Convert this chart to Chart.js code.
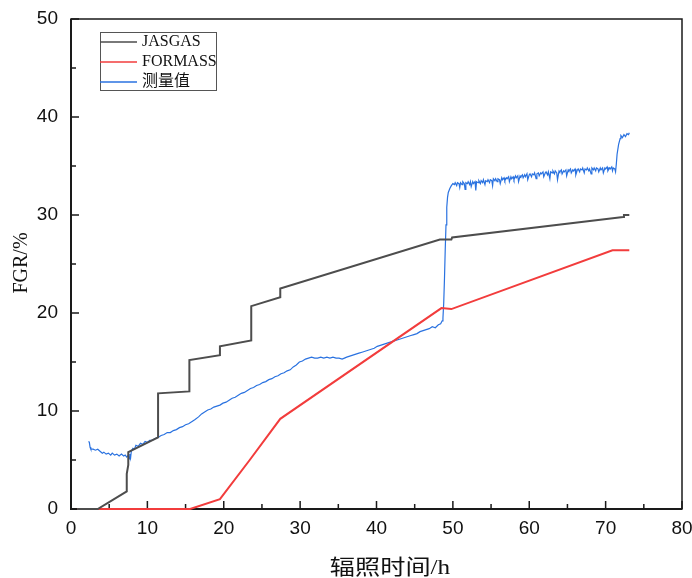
<!DOCTYPE html>
<html><head><meta charset="utf-8">
<script src="https://cdn.jsdelivr.net/npm/chart.js@4/dist/chart.umd.min.js"></script>
<style>html,body{margin:0;padding:0;background:#fff}canvas{display:block}</style>
</head><body>
<canvas id="c" width="692" height="578"></canvas>
<script>
const xTicks = [0,10,20,30,40,50,60,70,80];
const yTicks = [0,10,20,30,40,50];
const seriesLabels = ["JASGAS","FORMASS","测量值"];
const xTitle = "辐照时间/h";
const yTitle = "FGR/%";

const jasgas = [
[0.8,0],[3.5,0],[7.3,1.8],[7.3,3.6],[7.5,4.5],[7.5,5.8],[11.4,7.3],[11.4,11.8],
[15.5,12.0],[15.5,15.2],[19.5,15.7],[19.5,16.6],[23.6,17.2],[23.6,20.7],
[27.4,21.6],[27.4,22.5],[48.3,27.5],[49.8,27.5],[49.9,27.7],[72.3,29.8],[72.4,30.0],[73.1,30.0]
];
const formass = [
[0.8,0],[15.6,0],[19.5,1.0],[23.4,5.0],[27.4,9.2],[48.5,20.5],[49.8,20.4],[70.9,26.4],[73.1,26.4]
];
const measured = [
[2.3,6.9],[2.4,6.8],[2.5,6.3],[2.6,6.1],[2.9,6.1],[3.2,6.0],[3.5,6.1],[3.8,5.9],[4.1,5.7],[4.3,5.8],
[4.6,5.6],[4.9,5.7],[5.2,5.5],[5.4,5.7],[5.7,5.5],[6.0,5.6],[6.3,5.4],[6.6,5.6],[6.9,5.4],[7.1,5.5],
[7.3,5.3],[7.5,5.5],[7.6,5.1],[7.7,5.6],[7.8,5.2],[7.9,5.9],[8.1,6.2],[8.3,6.1],[8.5,6.5],[8.8,6.4],
[9.1,6.7],[9.4,6.6],[9.7,6.9],[10.0,6.8],[10.3,7.0],[10.6,7.0],[11.0,7.2],[11.4,7.3],[11.8,7.5],[12.2,7.6],
[12.6,7.8],[13.0,7.8],[13.4,8.0],[13.8,8.1],[14.2,8.3],[14.6,8.4],[15.0,8.6],[15.4,8.7],[15.8,8.9],[16.2,9.1],
[16.7,9.4],[17.1,9.7],[17.5,9.9],[17.9,10.1],[18.3,10.2],[18.7,10.4],[19.1,10.5],[19.5,10.6],[19.9,10.8],[20.3,10.9],
[20.7,11.1],[21.1,11.3],[21.5,11.4],[21.9,11.6],[22.3,11.8],[22.7,11.9],[23.1,12.1],[23.5,12.3],[23.9,12.4],[24.3,12.6],
[24.7,12.7],[25.1,12.9],[25.5,13.0],[25.9,13.2],[26.3,13.3],[26.7,13.5],[27.1,13.6],[27.5,13.8],[27.9,13.9],[28.3,14.1],
[28.7,14.2],[29.1,14.5],[29.5,14.7],[29.9,15.0],[30.3,15.1],[30.7,15.3],[31.1,15.4],[31.5,15.5],[31.9,15.4],[32.3,15.4],
[32.7,15.5],[33.1,15.4],[33.5,15.5],[33.9,15.4],[34.3,15.5],[34.7,15.4],[35.1,15.4],[35.5,15.3],[35.8,15.4],[36.1,15.5],
[36.5,15.6],[36.9,15.7],[37.3,15.8],[37.7,15.9],[38.1,16.0],[38.5,16.1],[38.9,16.2],[39.3,16.3],[39.7,16.4],[40.1,16.6],
[40.5,16.7],[40.9,16.8],[41.3,16.9],[41.7,17.0],[42.1,17.1],[42.5,17.2],[42.9,17.3],[43.3,17.4],[43.7,17.5],[44.1,17.6],
[44.5,17.7],[44.9,17.8],[45.3,17.9],[45.7,18.1],[46.1,18.2],[46.5,18.3],[46.9,18.4],[47.3,18.6],[47.7,18.5],[48.1,18.8],
[48.4,18.9],[48.6,19.2],[48.7,19.5],[48.8,21.0],[48.9,23.5],[49.0,26.5],[49.1,29.0],[49.2,30.8],[49.3,31.8],[49.4,32.3],
[49.6,32.7],[49.8,33.0],[50.0,33.2],[50.2,33.1],[50.3,33.3],[50.5,33.0],[50.6,33.3],[50.8,33.2],[50.9,32.8],[51.0,33.3],
[51.2,33.1],[51.3,33.4],[51.5,33.2],[51.6,32.6],[51.7,33.3],[51.9,33.2],[52.0,33.4],[52.2,33.1],[52.3,33.4],[52.4,32.9],
[52.6,33.4],[52.7,33.2],[52.9,33.4],[53.0,32.5],[53.1,33.4],[53.3,33.3],[53.4,33.5],[53.6,33.2],[53.7,33.5],[53.9,33.3],
[54.0,33.6],[54.2,33.1],[54.3,33.5],[54.5,33.4],[54.6,33.6],[54.8,33.3],[54.9,33.6],[55.1,33.5],[55.2,33.0],[55.3,33.7],
[55.5,33.5],[55.6,33.7],[55.8,33.4],[55.9,33.7],[56.1,33.6],[56.2,33.2],[56.4,33.8],[56.5,33.6],[56.7,33.8],[56.8,33.5],
[57.0,33.8],[57.1,33.7],[57.3,33.9],[57.4,33.4],[57.6,33.9],[57.7,33.7],[57.9,33.9],[58.0,33.6],[58.2,34.0],[58.3,33.8],
[58.5,34.0],[58.6,33.4],[58.8,34.0],[58.9,33.9],[59.1,34.1],[59.2,33.8],[59.4,34.1],[59.5,33.9],[59.7,34.2],[59.8,33.6],
[60.0,34.1],[60.1,34.2],[60.3,33.9],[60.4,34.2],[60.6,34.1],[60.7,34.3],[60.9,33.7],[61.0,34.2],[61.2,34.3],[61.3,34.0],
[61.5,34.3],[61.6,34.2],[61.8,34.4],[61.9,33.9],[62.1,34.3],[62.2,34.4],[62.4,34.1],[62.5,34.4],[62.7,33.7],[62.8,34.4],
[63.0,34.3],[63.1,34.5],[63.3,34.2],[63.4,34.5],[63.6,34.3],[63.7,33.6],[63.9,34.5],[64.0,34.4],[64.2,34.6],[64.3,34.2],
[64.5,34.5],[64.6,34.4],[64.8,34.6],[64.9,34.0],[65.1,34.6],[65.2,34.5],[65.4,34.7],[65.5,34.3],[65.7,34.6],[65.8,34.5],
[66.0,34.7],[66.1,34.1],[66.3,34.6],[66.4,34.7],[66.6,34.4],[66.7,34.7],[66.9,34.6],[67.0,34.8],[67.2,34.3],[67.3,34.7],
[67.5,34.6],[67.6,34.8],[67.8,34.5],[67.9,34.7],[68.1,34.2],[68.2,34.8],[68.4,34.6],[68.5,34.8],[68.7,34.5],[68.8,34.8],
[69.0,34.7],[69.1,34.4],[69.3,34.8],[69.4,34.6],[69.6,34.8],[69.7,34.3],[69.9,34.8],[70.0,34.7],[70.2,34.9],[70.3,34.5],
[70.5,34.8],[70.6,34.7],[70.8,34.9],[70.9,34.5],[71.0,34.8],[71.2,34.7],[71.3,34.4],[71.4,35.2],[71.5,36.2],[71.7,37.2],
[71.9,37.8],[72.0,38.1],[72.2,37.9],[72.4,38.2],[72.6,38.0],[72.8,38.3],[73.0,38.2],[73.1,38.4]
];

const colors = ["#4d4d4d","#f23c3c","#2a72e0"];
const toXY = arr => arr.map(p => ({x:p[0], y:p[1]}));

const framePlugin = {
  id: 'frame',
  beforeDatasetsDraw(chart) {
    const ctx = chart.ctx, a = chart.chartArea;
    const xs = chart.scales.x, ys = chart.scales.y;
    ctx.save();
    ctx.strokeStyle = '#1a1a1a';
    ctx.lineWidth = 1.5;
    ctx.strokeRect(a.left, a.top, a.right - a.left, a.bottom - a.top);
    ctx.lineWidth = 2;
    ctx.beginPath();
    ctx.moveTo(a.left, a.top); ctx.lineTo(a.left, a.bottom); ctx.lineTo(a.right, a.bottom);
    ctx.stroke();
    ctx.lineWidth = 1.5;
    ctx.beginPath();
    for (let v = 0; v <= 80; v += 5) {
      const px = xs.getPixelForValue(v);
      const len = (v % 10 === 0) ? 8 : 5;
      ctx.moveTo(px, a.bottom); ctx.lineTo(px, a.bottom - len);
    }
    for (let v = 0; v <= 50; v += 5) {
      const py = ys.getPixelForValue(v);
      const len = (v % 10 === 0) ? 8 : 5;
      ctx.moveTo(a.left, py); ctx.lineTo(a.left + len, py);
    }
    ctx.stroke();
    ctx.restore();
  },
  afterDraw(chart) {
    const ctx = chart.ctx, a = chart.chartArea;
    ctx.save();
    ctx.fillStyle = '#111';
    ctx.textAlign = 'center'; ctx.textBaseline = 'middle';
    ctx.save();
    ctx.translate(390, 568);
    ctx.scale(1.2, 1);
    ctx.font = '21px "Liberation Serif", "Noto Sans CJK SC", serif';
    ctx.fillText(xTitle, 0, 0);
    ctx.restore();
    ctx.save();
    ctx.translate(22, 263);
    ctx.rotate(-Math.PI / 2);
    ctx.font = '20px "Liberation Serif", serif';
    ctx.fillText(yTitle, 0, 0);
    ctx.restore();
    const lx = a.left + 29, ly = a.top + 13;
    ctx.strokeStyle = '#555'; ctx.lineWidth = 1;
    ctx.strokeRect(lx + 0.5, ly + 0.5, 116, 58);
    ctx.font = '16px "Liberation Serif", "Noto Sans CJK SC", serif';
    ctx.textAlign = 'left'; ctx.textBaseline = 'middle';
    chart.data.datasets.forEach((ds, i) => {
      const yy = ly + 10 + i * 20;
      ctx.strokeStyle = ds.borderColor; ctx.lineWidth = 1.5;
      ctx.beginPath(); ctx.moveTo(lx, yy); ctx.lineTo(lx + 37, yy); ctx.stroke();
      ctx.fillStyle = '#111';
      ctx.fillText(ds.label, lx + 42, yy);
    });
    ctx.restore();
  }
};

new Chart(document.getElementById('c'), {
  type: 'line',
  data: {
    datasets: [
      {label: seriesLabels[0], data: toXY(jasgas), borderColor: colors[0], borderWidth: 2, pointRadius: 0, tension: 0, clip: 4},
      {label: seriesLabels[1], data: toXY(formass), borderColor: colors[1], borderWidth: 2, pointRadius: 0, tension: 0, clip: 4},
      {label: seriesLabels[2], data: toXY(measured), borderColor: colors[2], borderWidth: 1.2, pointRadius: 0, tension: 0, clip: 4}
    ]
  },
  options: {
    responsive: false,
    animation: false,
    devicePixelRatio: 1,
    layout: {padding: {top: 19, right: 10, left: 0, bottom: 0}},
    plugins: {legend: {display: false}, tooltip: {enabled: false}},
    scales: {
      x: {
        type: 'linear', min: 0, max: 80,
        afterFit(s) { s.height = 69; s.paddingLeft = 0; s.paddingRight = 0; s.paddingTop = 0; s.paddingBottom = 0; },
        afterBuildTicks(s) { s.ticks = xTicks.map(v => ({value: v})); },
        grid: {display: true, drawOnChartArea: false, drawTicks: false},
        border: {display: false},
        ticks: {padding: 8, color: '#111', font: {family: '"Liberation Sans", Arial', size: 19}, maxRotation: 0, autoSkip: false}
      },
      y: {
        type: 'linear', min: 0, max: 50,
        afterFit(s) { s.width = 71; s.paddingLeft = 0; s.paddingRight = 0; s.paddingTop = 0; s.paddingBottom = 0; },
        afterBuildTicks(s) { s.ticks = yTicks.map(v => ({value: v})); },
        grid: {display: true, drawOnChartArea: false, drawTicks: false},
        border: {display: false},
        ticks: {padding: 13, color: '#111', font: {family: '"Liberation Sans", Arial', size: 19}, autoSkip: false}
      }
    }
  },
  plugins: [framePlugin]
});
</script>
</body></html>
